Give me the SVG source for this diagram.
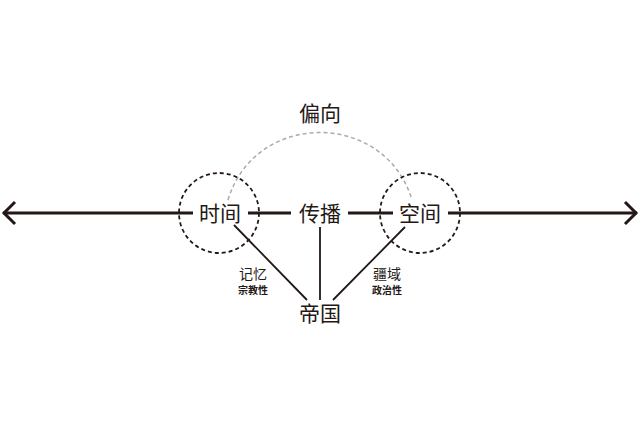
<svg xmlns="http://www.w3.org/2000/svg" width="640" height="427" viewBox="0 0 640 427">
<style>
.t{font-family:"Noto Sans CJK SC","Noto Sans",sans-serif;fill:#231815;text-anchor:middle}
.big{font-size:21px}
.mid{font-size:14px}
.sm{font-size:10px;font-weight:bold}
.axis{stroke:#231815;stroke-width:3;fill:none}
.thin{stroke:#231815;stroke-width:1.8;fill:none}
.circ{stroke:#231815;stroke-width:1.8;fill:none;stroke-dasharray:4 3}
.arc{stroke:#aaaaaa;stroke-width:1.5;fill:none;stroke-dasharray:4 3}
</style>
<rect width="640" height="427" fill="#fff"/>
<g id="connectors">
<path class="axis" d="M3,213 H193 M248,213 H291 M348,213 H393 M448,213 H637"/>
<path class="axis" d="M15,202 L4,213 L15,224"/>
<path class="axis" d="M625,202 L636,213 L625,224"/>
<path class="arc" d="M228,200 C255,110 385,110 412,200"/>
<path class="thin" d="M234,225 L307,300 M320,227 V300 M405,227 L333,300"/>
</g>
<g id="time"><circle class="circ" cx="219" cy="213" r="40"/><text class="t big" x="220" y="221">时间</text></g>
<g id="space"><circle class="circ" cx="420" cy="213" r="40"/><text class="t big" x="420" y="221">空间</text></g>
<g id="spread"><text class="t big" x="320" y="221">传播</text></g>
<g id="bias"><text class="t big" x="320" y="121">偏向</text></g>
<g id="empire"><text class="t big" x="320" y="321">帝国</text></g>
<g id="memory"><text class="t mid" x="253" y="279">记忆</text><text class="t sm" x="253" y="294">宗教性</text></g>
<g id="territory"><text class="t mid" x="387" y="279">疆域</text><text class="t sm" x="387" y="294">政治性</text></g>
</svg>
